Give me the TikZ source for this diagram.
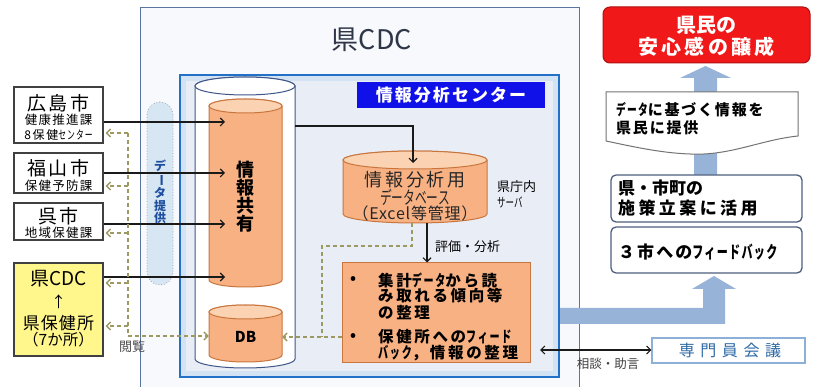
\documentclass[tikz,border=0pt]{standalone}
\usepackage{fontspec}
\setmainfont{Noto Sans CJK JP}
\usepackage{graphicx}
\usetikzlibrary{arrows.meta}
\definecolor{orbody}{HTML}{F8B183}
\definecolor{ortop}{HTML}{FBD3B2}
\definecolor{orline}{HTML}{C9763E}
\definecolor{cylline}{HTML}{3E5588}
\definecolor{capfill}{HTML}{D6E6F2}
\definecolor{capline}{HTML}{9AA6B2}
\definecolor{lblblue}{HTML}{1010E8}
\definecolor{ctrline}{HTML}{2370C8}
\definecolor{ctrband}{HTML}{D3E3F3}
\definecolor{ctrfill}{HTML}{E9EEF6}
\definecolor{outbord}{HTML}{5A76A0}
\definecolor{outfill}{HTML}{F7F9FC}
\definecolor{redbox}{HTML}{F01818}
\definecolor{redline}{HTML}{B01010}
\definecolor{rbline}{HTML}{4D5F7D}
\definecolor{senline}{HTML}{8DB0D8}
\definecolor{sentext}{HTML}{2E6AA6}
\definecolor{dashol}{HTML}{9C9A62}
\definecolor{yel}{HTML}{FFF68C}
\definecolor{bigarrow}{HTML}{97B4D8}
\definecolor{captext}{HTML}{1F4FA0}
\definecolor{ink}{HTML}{1A1A1A}
\definecolor{titleink}{HTML}{2E3648}
\newcommand{\fs}[2]{\fontsize{#1}{#1}\selectfont\addfontfeatures{LetterSpace=#2}}
\newcommand{\hwk}[1]{\scalebox{0.65}[1]{#1}}
\newcommand{\drawcyl}[7]{%
  \path[#6] ({#1-#2},#3) -- ({#1-#2},#4) arc[start angle=180,end angle=0,x radius=#2,y radius=#5] -- ({#1+#2},#3) arc[start angle=0,end angle=-180,x radius=#2,y radius=#5] -- cycle;
  \path[#7] (#1,#3) ellipse[x radius=#2,y radius=#5];
}
\begin{document}
\begin{tikzpicture}[x=1pt,y=-1pt,
  lbox/.style={draw=black!75,line width=1.2pt,fill=white,inner sep=0pt,minimum width=89},
  arr/.style={draw=ink,line width=1.1pt,-{Straight Barb[length=4pt,width=8pt]}},
  dsh/.style={draw=dashol,line width=1.4pt,dash pattern=on 4pt off 3pt},
  dtip/.style={-{Straight Barb[length=4pt,width=8pt]}},
  rbox/.style={draw=rbline,line width=1.3pt,rounded corners=5pt,fill=white,inner sep=0pt},
  cylbody/.style={fill=orbody,draw=orline,line width=1pt},
  cyltop/.style={fill=ortop,draw=orline,line width=1pt},
  tx/.style={inner sep=0pt},
  txw/.style={inner sep=0pt,anchor=west},
]
\useasboundingbox (0,0) rectangle (817,387);
\clip (0,0) rectangle (817,387);
\fill[white] (0,0) rectangle (817,387);

% outer CDC box
\node[draw=outbord,line width=1pt,fill=outfill,minimum width=439,minimum height=400,inner sep=0pt] (cdc) at (359.5,208) {};
\node[tx,font=\fs{27}{0},text=titleink] (cdctitle) at (372,40) {県CDC};

% analysis center box
\node[draw=ctrline,line width=2.5pt,fill=ctrband,minimum width=379,minimum height=302,inner sep=0pt] (ctr) at (369.5,226) {};
\fill[ctrfill] (186,81) rectangle (553,371);
\node[fill=lblblue,text=white,font=\bfseries\fs{17}{12},minimum width=188,minimum height=26,inner sep=0pt] (ctrlabel) at (451,95) {情報分析センター};

% data provision capsule
\node[draw=capline,dotted,line width=0.8pt,fill=capfill,rounded corners=13pt,minimum width=26,minimum height=183,inner sep=0pt] (cap) at (160,193.5) {};
\node[tx,text=captext,font=\bfseries\fontsize{12}{12.5}\selectfont,align=center] (captxt) at (160,192) {デ\\\rotatebox[origin=c]{-90}{ー}\\タ\\提\\供};

% big white cylinder
\drawcyl{245}{50}{86}{359}{9}{fill=white,draw=cylline,line width=1pt}{fill=white,draw=cylline,line width=1pt}
\node[minimum width=100,minimum height=291,inner sep=0pt] (bigcyl) at (245,222.5) {};
% shared info cylinder
\drawcyl{245.5}{36.5}{106}{280}{7}{cylbody}{cyltop}
\node[minimum width=73,minimum height=188,inner sep=0pt] (share) at (245.5,193) {};
\node[tx,font=\bfseries\fontsize{18}{18}\selectfont,align=center] (sharetxt) at (245,197) {情\\報\\共\\有};
% DB cylinder
\drawcyl{245.5}{36.5}{312}{355}{7}{cylbody}{cyltop}
\node[minimum width=73,minimum height=57,inner sep=0pt] (db) at (245.5,333.5) {};
\node[tx,font=\bfseries\fs{15}{0}] (dbtxt) at (245.5,337) {DB};
% analysis database cylinder
\drawcyl{415}{72}{160}{214}{9}{cylbody}{cyltop}
\node[minimum width=144,minimum height=72,inner sep=0pt] (infodb) at (415,187) {};
\node[tx,font=\fs{18}{15},text=black!85] (idb1) at (415,180) {情報分析用};
\node[tx,font=\fs{18}{0},text=black!85] (idb2) at (415,197) {\hwk{データベース}};
\node[tx,font=\fs{16}{5},text=black!85] (idb3) at (415,213) {（Excel等管理）};
\node[txw,font=\fs{13}{0}] (srv1) at (497,187) {県庁内};
\node[txw,font=\fs{13}{0}] (srv2) at (497,202) {\hwk{サーバ}};
\node[txw,font=\fs{13}{0}] (hyouka) at (435,247) {評価・分析};

% analysis box
\node[draw=orline,line width=1pt,fill=orbody,minimum width=188,minimum height=100,inner sep=0pt] (ana) at (436,313) {};
\node[tx,font=\bfseries\fs{15}{0}] (b1) at (353,280) {•};
\node[tx,font=\bfseries\fs{15}{0}] (b2) at (353,337) {•};
\node[txw,font=\bfseries\fs{15.5}{17}] (a1) at (378,280) {集計\hwk{データ}から読};
\node[txw,font=\bfseries\fs{15.5}{17}] (a2) at (378,296) {み取れる傾向等};
\node[txw,font=\bfseries\fs{15.5}{17}] (a3) at (378,313) {の整理};
\node[txw,font=\bfseries\fs{15.5}{17}] (a4) at (378,337) {保健所への\hwk{フィード}};
\node[txw,font=\bfseries\fs{15.5}{17}] (a5) at (378,353) {\hwk{バック}，情報の整理};

% left boxes
\node[lbox,minimum height=56] (hiro) at (58.5,115) {};
\node[tx,font=\fs{19}{15}] (hiro1) at (58.5,103) {広島市};
\node[tx,font=\fs{12.5}{10}] (hiro2) at (58.5,120) {健康推進課};
\node[tx,font=\fs{12}{14}] (hiro3) at (58.5,135) {8保健\hwk{センター}};
\node[lbox,minimum height=40] (fuku) at (58.5,173) {};
\node[tx,font=\fs{19}{15}] (fuku1) at (58.5,168) {福山市};
\node[tx,font=\fs{12.5}{10}] (fuku2) at (58.5,186) {保健予防課};
\node[lbox,minimum height=37] (kure) at (58.5,221.5) {};
\node[tx,font=\fs{19}{15}] (kure1) at (58.5,216) {呉市};
\node[tx,font=\fs{12.5}{10}] (kure2) at (58.5,233) {地域保健課};
\node[lbox,fill=yel,minimum height=93] (ken) at (58.5,309.5) {};
\node[tx,font=\fs{19}{0}] (ken1) at (58.5,279) {県CDC};
\node[tx,font=\fs{15}{0}] (ken2) at (58.5,302) {↑};
\node[tx,font=\fs{17}{6}] (ken3) at (58.5,323) {県保健所};
\node[tx,font=\fs{15.5}{0}] (ken4) at (58.5,340) {（7か所）};
\node[tx,font=\fs{13}{0},text=black!70] (etsuran) at (132,347) {閲覧};

% solid arrows into shared info
\coordinate (s1) at (225,122);
\coordinate (s2) at (225,173);
\coordinate (s3) at (225,224);
\coordinate (s4) at (225,277);
\draw[arr] (hiro.east |- s1) -- (s1);
\draw[arr] (fuku.east |- s2) -- (s2);
\draw[arr] (kure.east |- s3) -- (s3);
\draw[arr] (ken.east |- s4) -- (s4);
\coordinate (j1) at (413,126);
\coordinate (j2) at (413,163);
\draw[arr] (bigcyl.east |- j1) -- (j1) -- (j2);
\coordinate (e1) at (427,0);
\draw[arr] (infodb.south -| e1) -- (ana.north -| e1);

% dashed viewing arrows
\coordinate (vt) at (128,133);
\coordinate (v2) at (128,186);
\coordinate (v3) at (128,233);
\coordinate (v4) at (128,283);
\coordinate (v5) at (128,326);
\coordinate (vb) at (128,336);
\draw[dsh] (vt) -- (vb);
\draw[dsh,dtip] (vb) -- (db.west |- vb);
\draw[dsh,dtip,shorten >=2pt] (vt) -- (hiro.east |- vt);
\draw[dsh,dtip,shorten >=2pt] (v2) -- (fuku.east |- v2);
\draw[dsh,dtip,shorten >=2pt] (v3) -- (kure.east |- v3);
\draw[dsh,dtip,shorten >=2pt] (v4) -- (ken.east |- v4);
\draw[dsh,dtip,shorten >=2pt] (v5) -- (ken.east |- v5);
\coordinate (d1) at (412,0);
\coordinate (d2) at (322,246);
\coordinate (d3) at (0,337);
\draw[dsh] (infodb.south -| d1) |- (d2) -- (d2 |- d3);
\draw[dsh,dtip] (ana.west |- d3) -- (db.east |- d3);

% big light blue arrows
\fill[bigarrow] (560,308) -- (703,308) -- (703,289) -- (692,289) -- (714,276) -- (736,289) -- (725,289) -- (725,324) -- (560,324) -- cycle;
\fill[bigarrow] (694,176) -- (694,78) -- (680,78) -- (705.5,66) -- (731,78) -- (717,78) -- (717,176) -- cycle;

% right side
\node[draw=redline,line width=1pt,fill=redbox,rounded corners=7pt,minimum width=207,minimum height=56,inner sep=0pt] (red) at (706.5,35) {};
\node[tx,text=white,font=\bfseries\fs{20}{2}] (red1) at (706.5,25) {県民の};
\node[tx,text=white,font=\bfseries\fs{20}{16}] (red2) at (706.5,47) {安心感の醸成};

\draw[draw=black!55,line width=1pt,fill=white] (606,92) -- (798,92) -- (798,136) .. controls (760,140) and (730,156) .. (690,154) .. controls (660,153) and (630,146) .. (606,141) -- cycle;
\coordinate (callout) at (702,117);
\node[txw,font=\bfseries\fs{15}{12}] (cal1) at (616,110) {\hwk{データ}に基づく情報を};
\node[txw,font=\bfseries\fs{15}{12}] (cal2) at (616,128) {県民に提供};

\node[rbox,minimum width=191,minimum height=47] (plan) at (706.5,198.5) {};
\node[txw,font=\bfseries\fs{17}{0}] (plan1) at (618,188) {県・市町の};
\node[txw,font=\bfseries\fs{17}{20}] (plan2) at (618,208) {施策立案に活用};
\node[rbox,minimum width=191,minimum height=46] (fb) at (706.5,250) {};
\node[txw,font=\bfseries\fs{17}{12}] (fb1) at (618,252) {３市への\hwk{フィードバック}};

\node[draw=senline,line width=1.2pt,fill=white,minimum width=153,minimum height=25,inner sep=0pt] (sen) at (728.5,350.5) {};
\node[tx,text=sentext,font=\fs{16}{35}] (sentxt) at (730,350.5) {専門員会議};
\coordinate (c1) at (540,350);
\draw[draw=ink,line width=1.1pt,{Straight Barb[length=4pt,width=8pt]}-{Straight Barb[length=4pt,width=8pt]}] (c1) -- (sen.west |- c1);
\node[tx,font=\fs{12.5}{0},text=black!75] (soudan) at (608,364) {相談・助言};
\end{tikzpicture}
\end{document}
